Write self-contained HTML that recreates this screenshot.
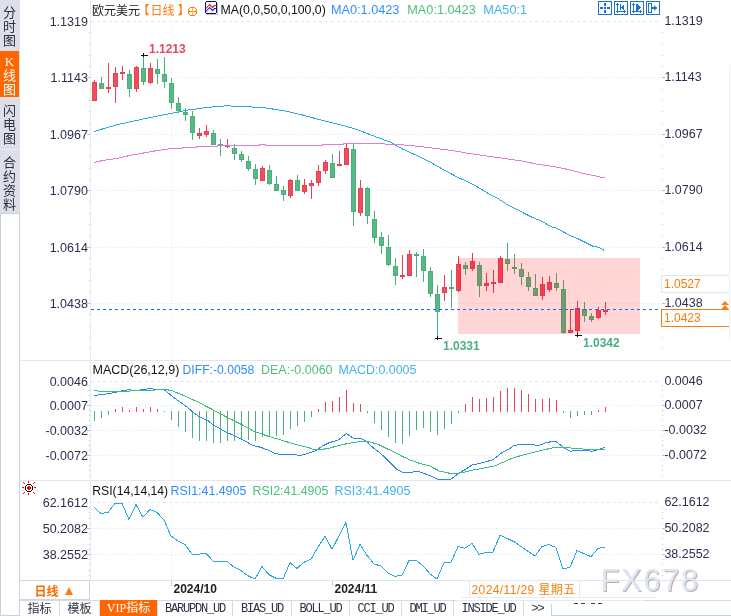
<!DOCTYPE html>
<html><head><meta charset="utf-8"><title>欧元美元 K线图</title>
<style>
html,body{margin:0;padding:0;background:#fff;}
body{width:731px;height:616px;overflow:hidden;position:relative;font-family:'Liberation Sans', 'Noto Sans CJK SC', sans-serif;}
svg{position:absolute;left:0;top:0;}
.side{position:absolute;left:0;top:0;width:20px;height:213px;background:#dedfe8;}
.tab{position:absolute;left:0;width:19px;font-family:'Liberation Sans','Noto Sans CJK SC',sans-serif;font-size:13px;line-height:14.2px;color:#2a3140;text-align:center;}
.tab.on{background:#ff6600;color:#fff;}
.col{position:absolute;left:0;top:213px;width:18px;height:401px;border:1px solid #c8d2dc;background:#fff;}
.bar{position:absolute;left:20px;top:600px;width:711px;height:16px;border-top:1px solid #d5dbe3;box-sizing:border-box;}
.bt{position:absolute;top:0;height:16px;line-height:16px;font-size:12px;color:#2a3140;text-align:center;border-right:1px solid #d5dbe3;box-sizing:border-box;}
.bt.cjk{font-family:'Liberation Sans','Noto Sans CJK SC',sans-serif;}
.bt.mono{font-family:'Liberation Mono',monospace;font-size:12px;letter-spacing:-1.2px;}
.bt.vip{background:#ff6600;color:#fff;top:-1px;height:16px;}
</style></head><body>
<div class="side"></div>
<div class="tab" style="top:6px;">分<br>时<br>图</div>
<div class="tab on" style="top:51px;height:46px;"><div style="padding-top:4px"><span style="font-family:'Liberation Serif',serif">K</span><br>线<br>图</div></div>
<div class="tab" style="top:103.6px;">闪<br>电<br>图</div>
<div style="position:absolute;left:0;top:149px;width:20px;height:1px;background:#e8eaf0"></div>
<div class="tab" style="top:155.5px;">合<br>约<br>资<br>料</div>
<div class="col"></div>
<svg width="731" height="616" viewBox="0 0 731 616" shape-rendering="auto">
<line x1="91" y1="21.5" x2="661" y2="21.5" stroke="#e3e8ee" stroke-width="1" stroke-dasharray="3 3"/>
<line x1="91" y1="77.5" x2="661" y2="77.5" stroke="#e3e8ee" stroke-width="1" stroke-dasharray="1 2"/>
<line x1="91" y1="134.5" x2="661" y2="134.5" stroke="#e3e8ee" stroke-width="1" stroke-dasharray="1 2"/>
<line x1="91" y1="190.5" x2="661" y2="190.5" stroke="#e3e8ee" stroke-width="1" stroke-dasharray="1 2"/>
<line x1="91" y1="247.5" x2="661" y2="247.5" stroke="#e3e8ee" stroke-width="1" stroke-dasharray="1 2"/>
<line x1="91" y1="303.5" x2="661" y2="303.5" stroke="#e3e8ee" stroke-width="1" stroke-dasharray="1 2"/>
<line x1="91" y1="381.5" x2="661" y2="381.5" stroke="#e3e8ee" stroke-width="1" stroke-dasharray="3 3"/>
<line x1="91" y1="405.5" x2="661" y2="405.5" stroke="#e3e8ee" stroke-width="1" stroke-dasharray="1 2"/>
<line x1="91" y1="430.5" x2="661" y2="430.5" stroke="#e3e8ee" stroke-width="1" stroke-dasharray="1 2"/>
<line x1="91" y1="455.5" x2="661" y2="455.5" stroke="#e3e8ee" stroke-width="1" stroke-dasharray="1 2"/>
<line x1="91" y1="502.5" x2="661" y2="502.5" stroke="#e3e8ee" stroke-width="1" stroke-dasharray="3 3"/>
<line x1="91" y1="528.5" x2="661" y2="528.5" stroke="#e3e8ee" stroke-width="1" stroke-dasharray="1 2"/>
<line x1="91" y1="554.5" x2="661" y2="554.5" stroke="#e3e8ee" stroke-width="1" stroke-dasharray="1 2"/>
<line x1="171.5" y1="15" x2="171.5" y2="580" stroke="#e3e8ee" stroke-width="1" stroke-dasharray="1 2"/>
<rect x="90" y="0" width="1" height="580" fill="#e6eaf0" />
<rect x="89" y="32" width="1" height="1" fill="#b8c0cc" />
<rect x="662" y="32" width="1" height="1" fill="#b8c0cc" />
<rect x="89" y="44" width="1" height="1" fill="#b8c0cc" />
<rect x="662" y="44" width="1" height="1" fill="#b8c0cc" />
<rect x="89" y="55" width="1" height="1" fill="#b8c0cc" />
<rect x="662" y="55" width="1" height="1" fill="#b8c0cc" />
<rect x="89" y="66" width="1" height="1" fill="#b8c0cc" />
<rect x="662" y="66" width="1" height="1" fill="#b8c0cc" />
<rect x="89" y="77" width="1" height="1" fill="#b8c0cc" />
<rect x="662" y="77" width="1" height="1" fill="#b8c0cc" />
<rect x="89" y="89" width="1" height="1" fill="#b8c0cc" />
<rect x="662" y="89" width="1" height="1" fill="#b8c0cc" />
<rect x="89" y="100" width="1" height="1" fill="#b8c0cc" />
<rect x="662" y="100" width="1" height="1" fill="#b8c0cc" />
<rect x="89" y="111" width="1" height="1" fill="#b8c0cc" />
<rect x="662" y="111" width="1" height="1" fill="#b8c0cc" />
<rect x="89" y="123" width="1" height="1" fill="#b8c0cc" />
<rect x="662" y="123" width="1" height="1" fill="#b8c0cc" />
<rect x="89" y="134" width="1" height="1" fill="#b8c0cc" />
<rect x="662" y="134" width="1" height="1" fill="#b8c0cc" />
<rect x="89" y="145" width="1" height="1" fill="#b8c0cc" />
<rect x="662" y="145" width="1" height="1" fill="#b8c0cc" />
<rect x="89" y="156" width="1" height="1" fill="#b8c0cc" />
<rect x="662" y="156" width="1" height="1" fill="#b8c0cc" />
<rect x="89" y="168" width="1" height="1" fill="#b8c0cc" />
<rect x="662" y="168" width="1" height="1" fill="#b8c0cc" />
<rect x="89" y="179" width="1" height="1" fill="#b8c0cc" />
<rect x="662" y="179" width="1" height="1" fill="#b8c0cc" />
<rect x="89" y="190" width="1" height="1" fill="#b8c0cc" />
<rect x="662" y="190" width="1" height="1" fill="#b8c0cc" />
<rect x="89" y="201" width="1" height="1" fill="#b8c0cc" />
<rect x="662" y="201" width="1" height="1" fill="#b8c0cc" />
<rect x="89" y="213" width="1" height="1" fill="#b8c0cc" />
<rect x="662" y="213" width="1" height="1" fill="#b8c0cc" />
<rect x="89" y="224" width="1" height="1" fill="#b8c0cc" />
<rect x="662" y="224" width="1" height="1" fill="#b8c0cc" />
<rect x="89" y="235" width="1" height="1" fill="#b8c0cc" />
<rect x="662" y="235" width="1" height="1" fill="#b8c0cc" />
<rect x="89" y="247" width="1" height="1" fill="#b8c0cc" />
<rect x="662" y="247" width="1" height="1" fill="#b8c0cc" />
<rect x="89" y="258" width="1" height="1" fill="#b8c0cc" />
<rect x="662" y="258" width="1" height="1" fill="#b8c0cc" />
<rect x="89" y="269" width="1" height="1" fill="#b8c0cc" />
<rect x="662" y="269" width="1" height="1" fill="#b8c0cc" />
<rect x="89" y="280" width="1" height="1" fill="#b8c0cc" />
<rect x="662" y="280" width="1" height="1" fill="#b8c0cc" />
<rect x="89" y="292" width="1" height="1" fill="#b8c0cc" />
<rect x="662" y="292" width="1" height="1" fill="#b8c0cc" />
<rect x="89" y="303" width="1" height="1" fill="#b8c0cc" />
<rect x="662" y="303" width="1" height="1" fill="#b8c0cc" />
<rect x="89" y="314" width="1" height="1" fill="#b8c0cc" />
<rect x="662" y="314" width="1" height="1" fill="#b8c0cc" />
<rect x="89" y="326" width="1" height="1" fill="#b8c0cc" />
<rect x="662" y="326" width="1" height="1" fill="#b8c0cc" />
<rect x="89" y="337" width="1" height="1" fill="#b8c0cc" />
<rect x="662" y="337" width="1" height="1" fill="#b8c0cc" />
<rect x="89" y="348" width="1" height="1" fill="#b8c0cc" />
<rect x="662" y="348" width="1" height="1" fill="#b8c0cc" />
<rect x="87" y="77" width="3" height="1" fill="#b8c0cc" />
<rect x="662" y="77" width="3" height="1" fill="#b8c0cc" />
<rect x="87" y="134" width="3" height="1" fill="#b8c0cc" />
<rect x="662" y="134" width="3" height="1" fill="#b8c0cc" />
<rect x="87" y="190" width="3" height="1" fill="#b8c0cc" />
<rect x="662" y="190" width="3" height="1" fill="#b8c0cc" />
<rect x="87" y="247" width="3" height="1" fill="#b8c0cc" />
<rect x="662" y="247" width="3" height="1" fill="#b8c0cc" />
<rect x="87" y="303" width="3" height="1" fill="#b8c0cc" />
<rect x="662" y="303" width="3" height="1" fill="#b8c0cc" />
<rect x="89" y="385" width="1" height="1" fill="#b8c0cc" />
<rect x="662" y="385" width="1" height="1" fill="#b8c0cc" />
<rect x="89" y="390" width="1" height="1" fill="#b8c0cc" />
<rect x="662" y="390" width="1" height="1" fill="#b8c0cc" />
<rect x="89" y="395" width="1" height="1" fill="#b8c0cc" />
<rect x="662" y="395" width="1" height="1" fill="#b8c0cc" />
<rect x="89" y="400" width="1" height="1" fill="#b8c0cc" />
<rect x="662" y="400" width="1" height="1" fill="#b8c0cc" />
<rect x="89" y="405" width="1" height="1" fill="#b8c0cc" />
<rect x="662" y="405" width="1" height="1" fill="#b8c0cc" />
<rect x="89" y="410" width="1" height="1" fill="#b8c0cc" />
<rect x="662" y="410" width="1" height="1" fill="#b8c0cc" />
<rect x="89" y="415" width="1" height="1" fill="#b8c0cc" />
<rect x="662" y="415" width="1" height="1" fill="#b8c0cc" />
<rect x="89" y="420" width="1" height="1" fill="#b8c0cc" />
<rect x="662" y="420" width="1" height="1" fill="#b8c0cc" />
<rect x="89" y="425" width="1" height="1" fill="#b8c0cc" />
<rect x="662" y="425" width="1" height="1" fill="#b8c0cc" />
<rect x="89" y="430" width="1" height="1" fill="#b8c0cc" />
<rect x="662" y="430" width="1" height="1" fill="#b8c0cc" />
<rect x="89" y="435" width="1" height="1" fill="#b8c0cc" />
<rect x="662" y="435" width="1" height="1" fill="#b8c0cc" />
<rect x="89" y="440" width="1" height="1" fill="#b8c0cc" />
<rect x="662" y="440" width="1" height="1" fill="#b8c0cc" />
<rect x="89" y="445" width="1" height="1" fill="#b8c0cc" />
<rect x="662" y="445" width="1" height="1" fill="#b8c0cc" />
<rect x="89" y="450" width="1" height="1" fill="#b8c0cc" />
<rect x="662" y="450" width="1" height="1" fill="#b8c0cc" />
<rect x="89" y="455" width="1" height="1" fill="#b8c0cc" />
<rect x="662" y="455" width="1" height="1" fill="#b8c0cc" />
<rect x="89" y="460" width="1" height="1" fill="#b8c0cc" />
<rect x="662" y="460" width="1" height="1" fill="#b8c0cc" />
<rect x="89" y="465" width="1" height="1" fill="#b8c0cc" />
<rect x="662" y="465" width="1" height="1" fill="#b8c0cc" />
<rect x="89" y="470" width="1" height="1" fill="#b8c0cc" />
<rect x="662" y="470" width="1" height="1" fill="#b8c0cc" />
<rect x="89" y="475" width="1" height="1" fill="#b8c0cc" />
<rect x="662" y="475" width="1" height="1" fill="#b8c0cc" />
<rect x="87" y="405" width="3" height="1" fill="#b8c0cc" />
<rect x="662" y="405" width="3" height="1" fill="#b8c0cc" />
<rect x="87" y="430" width="3" height="1" fill="#b8c0cc" />
<rect x="662" y="430" width="3" height="1" fill="#b8c0cc" />
<rect x="87" y="455" width="3" height="1" fill="#b8c0cc" />
<rect x="662" y="455" width="3" height="1" fill="#b8c0cc" />
<rect x="89" y="507" width="1" height="1" fill="#b8c0cc" />
<rect x="662" y="507" width="1" height="1" fill="#b8c0cc" />
<rect x="89" y="512" width="1" height="1" fill="#b8c0cc" />
<rect x="662" y="512" width="1" height="1" fill="#b8c0cc" />
<rect x="89" y="518" width="1" height="1" fill="#b8c0cc" />
<rect x="662" y="518" width="1" height="1" fill="#b8c0cc" />
<rect x="89" y="523" width="1" height="1" fill="#b8c0cc" />
<rect x="662" y="523" width="1" height="1" fill="#b8c0cc" />
<rect x="89" y="528" width="1" height="1" fill="#b8c0cc" />
<rect x="662" y="528" width="1" height="1" fill="#b8c0cc" />
<rect x="89" y="533" width="1" height="1" fill="#b8c0cc" />
<rect x="662" y="533" width="1" height="1" fill="#b8c0cc" />
<rect x="89" y="538" width="1" height="1" fill="#b8c0cc" />
<rect x="662" y="538" width="1" height="1" fill="#b8c0cc" />
<rect x="89" y="544" width="1" height="1" fill="#b8c0cc" />
<rect x="662" y="544" width="1" height="1" fill="#b8c0cc" />
<rect x="89" y="549" width="1" height="1" fill="#b8c0cc" />
<rect x="662" y="549" width="1" height="1" fill="#b8c0cc" />
<rect x="89" y="554" width="1" height="1" fill="#b8c0cc" />
<rect x="662" y="554" width="1" height="1" fill="#b8c0cc" />
<rect x="89" y="559" width="1" height="1" fill="#b8c0cc" />
<rect x="662" y="559" width="1" height="1" fill="#b8c0cc" />
<rect x="89" y="564" width="1" height="1" fill="#b8c0cc" />
<rect x="662" y="564" width="1" height="1" fill="#b8c0cc" />
<rect x="89" y="570" width="1" height="1" fill="#b8c0cc" />
<rect x="662" y="570" width="1" height="1" fill="#b8c0cc" />
<rect x="89" y="575" width="1" height="1" fill="#b8c0cc" />
<rect x="662" y="575" width="1" height="1" fill="#b8c0cc" />
<rect x="87" y="528" width="3" height="1" fill="#b8c0cc" />
<rect x="662" y="528" width="3" height="1" fill="#b8c0cc" />
<rect x="87" y="554" width="3" height="1" fill="#b8c0cc" />
<rect x="662" y="554" width="3" height="1" fill="#b8c0cc" />
<rect x="20" y="360" width="711" height="1" fill="#e2e7ee" />
<rect x="20" y="480" width="711" height="1" fill="#e2e7ee" />
<rect x="20" y="580" width="711" height="1" fill="#dfe4eb" />
<text x="87.9" y="25.8" font-size="12.5" fill="#2c3050" text-anchor="end" font-weight="normal" font-family="'Liberation Sans', 'Noto Sans CJK SC', sans-serif" >1.1319</text>
<text x="664.4" y="25.3" font-size="12.5" fill="#2c3050" text-anchor="start" font-weight="normal" font-family="'Liberation Sans', 'Noto Sans CJK SC', sans-serif" >1.1319</text>
<text x="87.9" y="81.8" font-size="12.5" fill="#2c3050" text-anchor="end" font-weight="normal" font-family="'Liberation Sans', 'Noto Sans CJK SC', sans-serif" >1.1143</text>
<text x="664.4" y="81.3" font-size="12.5" fill="#2c3050" text-anchor="start" font-weight="normal" font-family="'Liberation Sans', 'Noto Sans CJK SC', sans-serif" >1.1143</text>
<text x="87.9" y="138.8" font-size="12.5" fill="#2c3050" text-anchor="end" font-weight="normal" font-family="'Liberation Sans', 'Noto Sans CJK SC', sans-serif" >1.0967</text>
<text x="664.4" y="138.3" font-size="12.5" fill="#2c3050" text-anchor="start" font-weight="normal" font-family="'Liberation Sans', 'Noto Sans CJK SC', sans-serif" >1.0967</text>
<text x="87.9" y="194.8" font-size="12.5" fill="#2c3050" text-anchor="end" font-weight="normal" font-family="'Liberation Sans', 'Noto Sans CJK SC', sans-serif" >1.0790</text>
<text x="664.4" y="194.3" font-size="12.5" fill="#2c3050" text-anchor="start" font-weight="normal" font-family="'Liberation Sans', 'Noto Sans CJK SC', sans-serif" >1.0790</text>
<text x="87.9" y="251.8" font-size="12.5" fill="#2c3050" text-anchor="end" font-weight="normal" font-family="'Liberation Sans', 'Noto Sans CJK SC', sans-serif" >1.0614</text>
<text x="664.4" y="251.3" font-size="12.5" fill="#2c3050" text-anchor="start" font-weight="normal" font-family="'Liberation Sans', 'Noto Sans CJK SC', sans-serif" >1.0614</text>
<text x="87.9" y="307.8" font-size="12.5" fill="#2c3050" text-anchor="end" font-weight="normal" font-family="'Liberation Sans', 'Noto Sans CJK SC', sans-serif" >1.0438</text>
<text x="664.4" y="307.3" font-size="12.5" fill="#2c3050" text-anchor="start" font-weight="normal" font-family="'Liberation Sans', 'Noto Sans CJK SC', sans-serif" >1.0438</text>
<text x="87.9" y="385.8" font-size="12.5" fill="#2c3050" text-anchor="end" font-weight="normal" font-family="'Liberation Sans', 'Noto Sans CJK SC', sans-serif" >0.0046</text>
<text x="664.4" y="385.3" font-size="12.5" fill="#2c3050" text-anchor="start" font-weight="normal" font-family="'Liberation Sans', 'Noto Sans CJK SC', sans-serif" >0.0046</text>
<text x="87.9" y="409.8" font-size="12.5" fill="#2c3050" text-anchor="end" font-weight="normal" font-family="'Liberation Sans', 'Noto Sans CJK SC', sans-serif" >0.0007</text>
<text x="664.4" y="409.3" font-size="12.5" fill="#2c3050" text-anchor="start" font-weight="normal" font-family="'Liberation Sans', 'Noto Sans CJK SC', sans-serif" >0.0007</text>
<text x="87.9" y="434.8" font-size="12.5" fill="#2c3050" text-anchor="end" font-weight="normal" font-family="'Liberation Sans', 'Noto Sans CJK SC', sans-serif" >-0.0032</text>
<text x="664.4" y="434.3" font-size="12.5" fill="#2c3050" text-anchor="start" font-weight="normal" font-family="'Liberation Sans', 'Noto Sans CJK SC', sans-serif" >-0.0032</text>
<text x="87.9" y="459.8" font-size="12.5" fill="#2c3050" text-anchor="end" font-weight="normal" font-family="'Liberation Sans', 'Noto Sans CJK SC', sans-serif" >-0.0072</text>
<text x="664.4" y="459.3" font-size="12.5" fill="#2c3050" text-anchor="start" font-weight="normal" font-family="'Liberation Sans', 'Noto Sans CJK SC', sans-serif" >-0.0072</text>
<text x="87.9" y="506.8" font-size="12.5" fill="#2c3050" text-anchor="end" font-weight="normal" font-family="'Liberation Sans', 'Noto Sans CJK SC', sans-serif" >62.1612</text>
<text x="664.4" y="506.3" font-size="12.5" fill="#2c3050" text-anchor="start" font-weight="normal" font-family="'Liberation Sans', 'Noto Sans CJK SC', sans-serif" >62.1612</text>
<text x="87.9" y="532.8" font-size="12.5" fill="#2c3050" text-anchor="end" font-weight="normal" font-family="'Liberation Sans', 'Noto Sans CJK SC', sans-serif" >50.2082</text>
<text x="664.4" y="532.3" font-size="12.5" fill="#2c3050" text-anchor="start" font-weight="normal" font-family="'Liberation Sans', 'Noto Sans CJK SC', sans-serif" >50.2082</text>
<text x="87.9" y="558.8" font-size="12.5" fill="#2c3050" text-anchor="end" font-weight="normal" font-family="'Liberation Sans', 'Noto Sans CJK SC', sans-serif" >38.2552</text>
<text x="664.4" y="558.3" font-size="12.5" fill="#2c3050" text-anchor="start" font-weight="normal" font-family="'Liberation Sans', 'Noto Sans CJK SC', sans-serif" >38.2552</text>
<rect x="94" y="80" width="1" height="21" fill="#e84055" />
<rect x="92" y="82" width="5" height="19" fill="#e84055" />
<rect x="93" y="83" width="3" height="17" fill="#eb4f60" />
<rect x="101" y="77" width="1" height="12" fill="#49b07a" />
<rect x="99" y="83" width="5" height="6" fill="#49b07a" />
<rect x="100" y="84" width="3" height="4" fill="#58b987" />
<rect x="108" y="63" width="1" height="30" fill="#e84055" />
<rect x="106" y="87" width="5" height="2" fill="#e84055" />
<rect x="115" y="67" width="1" height="36" fill="#e84055" />
<rect x="113" y="73" width="5" height="14" fill="#e84055" />
<rect x="114" y="74" width="3" height="12" fill="#eb4f60" />
<rect x="122" y="66" width="1" height="14" fill="#e84055" />
<rect x="120" y="72" width="5" height="2" fill="#e84055" />
<rect x="129" y="70" width="1" height="27" fill="#49b07a" />
<rect x="127" y="74" width="5" height="15" fill="#49b07a" />
<rect x="128" y="75" width="3" height="13" fill="#58b987" />
<rect x="136" y="66" width="1" height="26" fill="#e84055" />
<rect x="134" y="67" width="5" height="22" fill="#e84055" />
<rect x="135" y="68" width="3" height="20" fill="#eb4f60" />
<rect x="143" y="56" width="1" height="29" fill="#49b07a" />
<rect x="141" y="68" width="5" height="14" fill="#49b07a" />
<rect x="142" y="69" width="3" height="12" fill="#58b987" />
<rect x="150" y="63" width="1" height="21" fill="#e84055" />
<rect x="148" y="68" width="5" height="15" fill="#e84055" />
<rect x="149" y="69" width="3" height="13" fill="#eb4f60" />
<rect x="157" y="59" width="1" height="25" fill="#49b07a" />
<rect x="155" y="69" width="5" height="5" fill="#49b07a" />
<rect x="156" y="70" width="3" height="3" fill="#58b987" />
<rect x="164" y="57" width="1" height="31" fill="#49b07a" />
<rect x="162" y="74" width="5" height="8" fill="#49b07a" />
<rect x="163" y="75" width="3" height="6" fill="#58b987" />
<rect x="171" y="78" width="1" height="31" fill="#49b07a" />
<rect x="169" y="83" width="5" height="20" fill="#49b07a" />
<rect x="170" y="84" width="3" height="18" fill="#58b987" />
<rect x="178" y="97" width="1" height="16" fill="#49b07a" />
<rect x="176" y="103" width="5" height="8" fill="#49b07a" />
<rect x="177" y="104" width="3" height="6" fill="#58b987" />
<rect x="185" y="108" width="1" height="13" fill="#49b07a" />
<rect x="183" y="112" width="5" height="3" fill="#49b07a" />
<rect x="184" y="113" width="3" height="1" fill="#58b987" />
<rect x="192" y="111" width="1" height="29" fill="#49b07a" />
<rect x="190" y="116" width="5" height="17" fill="#49b07a" />
<rect x="191" y="117" width="3" height="15" fill="#58b987" />
<rect x="199" y="128" width="1" height="11" fill="#e84055" />
<rect x="197" y="133" width="5" height="3" fill="#e84055" />
<rect x="198" y="134" width="3" height="1" fill="#eb4f60" />
<rect x="206" y="125" width="1" height="12" fill="#e84055" />
<rect x="204" y="131" width="5" height="4" fill="#e84055" />
<rect x="205" y="132" width="3" height="2" fill="#eb4f60" />
<rect x="213" y="130" width="1" height="15" fill="#49b07a" />
<rect x="211" y="133" width="5" height="12" fill="#49b07a" />
<rect x="212" y="134" width="3" height="10" fill="#58b987" />
<rect x="220" y="139" width="1" height="17" fill="#49b07a" />
<rect x="218" y="144" width="5" height="2" fill="#49b07a" />
<rect x="227" y="139" width="1" height="9" fill="#e84055" />
<rect x="225" y="145" width="5" height="2" fill="#e84055" />
<rect x="234" y="144" width="1" height="16" fill="#49b07a" />
<rect x="232" y="148" width="5" height="6" fill="#49b07a" />
<rect x="233" y="149" width="3" height="4" fill="#58b987" />
<rect x="241" y="151" width="1" height="11" fill="#49b07a" />
<rect x="239" y="154" width="5" height="6" fill="#49b07a" />
<rect x="240" y="155" width="3" height="4" fill="#58b987" />
<rect x="248" y="156" width="1" height="15" fill="#49b07a" />
<rect x="246" y="161" width="5" height="8" fill="#49b07a" />
<rect x="247" y="162" width="3" height="6" fill="#58b987" />
<rect x="255" y="164" width="1" height="21" fill="#49b07a" />
<rect x="253" y="169" width="5" height="10" fill="#49b07a" />
<rect x="254" y="170" width="3" height="8" fill="#58b987" />
<rect x="262" y="166" width="1" height="15" fill="#e84055" />
<rect x="260" y="168" width="5" height="13" fill="#e84055" />
<rect x="261" y="169" width="3" height="11" fill="#eb4f60" />
<rect x="269" y="165" width="1" height="20" fill="#49b07a" />
<rect x="267" y="170" width="5" height="14" fill="#49b07a" />
<rect x="268" y="171" width="3" height="12" fill="#58b987" />
<rect x="276" y="176" width="1" height="15" fill="#49b07a" />
<rect x="274" y="184" width="5" height="7" fill="#49b07a" />
<rect x="275" y="185" width="3" height="5" fill="#58b987" />
<rect x="283" y="186" width="1" height="15" fill="#49b07a" />
<rect x="281" y="190" width="5" height="5" fill="#49b07a" />
<rect x="282" y="191" width="3" height="3" fill="#58b987" />
<rect x="290" y="179" width="1" height="19" fill="#e84055" />
<rect x="288" y="180" width="5" height="16" fill="#e84055" />
<rect x="289" y="181" width="3" height="14" fill="#eb4f60" />
<rect x="297" y="175" width="1" height="16" fill="#49b07a" />
<rect x="295" y="180" width="5" height="11" fill="#49b07a" />
<rect x="296" y="181" width="3" height="9" fill="#58b987" />
<rect x="304" y="179" width="1" height="15" fill="#e84055" />
<rect x="302" y="185" width="5" height="7" fill="#e84055" />
<rect x="303" y="186" width="3" height="5" fill="#eb4f60" />
<rect x="311" y="180" width="1" height="19" fill="#e84055" />
<rect x="309" y="183" width="5" height="3" fill="#e84055" />
<rect x="310" y="184" width="3" height="1" fill="#eb4f60" />
<rect x="318" y="165" width="1" height="21" fill="#e84055" />
<rect x="316" y="171" width="5" height="12" fill="#e84055" />
<rect x="317" y="172" width="3" height="10" fill="#eb4f60" />
<rect x="325" y="160" width="1" height="14" fill="#e84055" />
<rect x="323" y="162" width="5" height="9" fill="#e84055" />
<rect x="324" y="163" width="3" height="7" fill="#eb4f60" />
<rect x="332" y="154" width="1" height="24" fill="#49b07a" />
<rect x="330" y="163" width="5" height="15" fill="#49b07a" />
<rect x="331" y="164" width="3" height="13" fill="#58b987" />
<rect x="339" y="151" width="1" height="15" fill="#e84055" />
<rect x="337" y="164" width="5" height="2" fill="#e84055" />
<rect x="346" y="144" width="1" height="21" fill="#e84055" />
<rect x="344" y="148" width="5" height="17" fill="#e84055" />
<rect x="345" y="149" width="3" height="15" fill="#eb4f60" />
<rect x="353" y="144" width="1" height="82" fill="#49b07a" />
<rect x="351" y="149" width="5" height="63" fill="#49b07a" />
<rect x="352" y="150" width="3" height="61" fill="#58b987" />
<rect x="360" y="180" width="1" height="36" fill="#e84055" />
<rect x="358" y="188" width="5" height="25" fill="#e84055" />
<rect x="359" y="189" width="3" height="23" fill="#eb4f60" />
<rect x="367" y="187" width="1" height="37" fill="#49b07a" />
<rect x="365" y="188" width="5" height="28" fill="#49b07a" />
<rect x="366" y="189" width="3" height="26" fill="#58b987" />
<rect x="374" y="211" width="1" height="32" fill="#49b07a" />
<rect x="372" y="219" width="5" height="19" fill="#49b07a" />
<rect x="373" y="220" width="3" height="17" fill="#58b987" />
<rect x="381" y="232" width="1" height="22" fill="#49b07a" />
<rect x="379" y="237" width="5" height="9" fill="#49b07a" />
<rect x="380" y="238" width="3" height="7" fill="#58b987" />
<rect x="388" y="235" width="1" height="31" fill="#49b07a" />
<rect x="386" y="247" width="5" height="18" fill="#49b07a" />
<rect x="387" y="248" width="3" height="16" fill="#58b987" />
<rect x="395" y="258" width="1" height="27" fill="#49b07a" />
<rect x="393" y="266" width="5" height="10" fill="#49b07a" />
<rect x="394" y="267" width="3" height="8" fill="#58b987" />
<rect x="402" y="255" width="1" height="24" fill="#e84055" />
<rect x="400" y="275" width="5" height="2" fill="#e84055" />
<rect x="409" y="250" width="1" height="26" fill="#e84055" />
<rect x="407" y="254" width="5" height="22" fill="#e84055" />
<rect x="408" y="255" width="3" height="20" fill="#eb4f60" />
<rect x="416" y="252" width="1" height="25" fill="#49b07a" />
<rect x="414" y="254" width="5" height="2" fill="#49b07a" />
<rect x="423" y="249" width="1" height="33" fill="#49b07a" />
<rect x="421" y="256" width="5" height="15" fill="#49b07a" />
<rect x="422" y="257" width="3" height="13" fill="#58b987" />
<rect x="430" y="267" width="1" height="30" fill="#49b07a" />
<rect x="428" y="271" width="5" height="23" fill="#49b07a" />
<rect x="429" y="272" width="3" height="21" fill="#58b987" />
<rect x="437" y="285" width="1" height="53" fill="#49b07a" />
<rect x="435" y="294" width="5" height="18" fill="#49b07a" />
<rect x="436" y="295" width="3" height="16" fill="#58b987" />
<rect x="444" y="275" width="1" height="26" fill="#e84055" />
<rect x="442" y="287" width="5" height="6" fill="#e84055" />
<rect x="443" y="288" width="3" height="4" fill="#eb4f60" />
<rect x="451" y="270" width="1" height="38" fill="#49b07a" />
<rect x="449" y="287" width="5" height="2" fill="#49b07a" />
<rect x="458" y="256" width="1" height="36" fill="#e84055" />
<rect x="456" y="264" width="5" height="27" fill="#e84055" />
<rect x="457" y="265" width="3" height="25" fill="#eb4f60" />
<rect x="465" y="262" width="1" height="13" fill="#49b07a" />
<rect x="463" y="265" width="5" height="4" fill="#49b07a" />
<rect x="464" y="266" width="3" height="2" fill="#58b987" />
<rect x="472" y="253" width="1" height="18" fill="#e84055" />
<rect x="470" y="261" width="5" height="8" fill="#e84055" />
<rect x="471" y="262" width="3" height="6" fill="#eb4f60" />
<rect x="479" y="262" width="1" height="35" fill="#49b07a" />
<rect x="477" y="265" width="5" height="21" fill="#49b07a" />
<rect x="478" y="266" width="3" height="19" fill="#58b987" />
<rect x="486" y="273" width="1" height="18" fill="#e84055" />
<rect x="484" y="283" width="5" height="3" fill="#e84055" />
<rect x="485" y="284" width="3" height="1" fill="#eb4f60" />
<rect x="493" y="270" width="1" height="23" fill="#e84055" />
<rect x="491" y="282" width="5" height="2" fill="#e84055" />
<rect x="500" y="256" width="1" height="27" fill="#e84055" />
<rect x="498" y="258" width="5" height="25" fill="#e84055" />
<rect x="499" y="259" width="3" height="23" fill="#eb4f60" />
<rect x="507" y="243" width="1" height="28" fill="#49b07a" />
<rect x="505" y="259" width="5" height="5" fill="#49b07a" />
<rect x="506" y="260" width="3" height="3" fill="#58b987" />
<rect x="514" y="254" width="1" height="20" fill="#49b07a" />
<rect x="512" y="267" width="5" height="2" fill="#49b07a" />
<rect x="521" y="263" width="1" height="22" fill="#49b07a" />
<rect x="519" y="269" width="5" height="8" fill="#49b07a" />
<rect x="520" y="270" width="3" height="6" fill="#58b987" />
<rect x="528" y="272" width="1" height="19" fill="#49b07a" />
<rect x="526" y="277" width="5" height="10" fill="#49b07a" />
<rect x="527" y="278" width="3" height="8" fill="#58b987" />
<rect x="535" y="274" width="1" height="22" fill="#49b07a" />
<rect x="533" y="288" width="5" height="8" fill="#49b07a" />
<rect x="534" y="289" width="3" height="6" fill="#58b987" />
<rect x="542" y="277" width="1" height="23" fill="#e84055" />
<rect x="540" y="284" width="5" height="12" fill="#e84055" />
<rect x="541" y="285" width="3" height="10" fill="#eb4f60" />
<rect x="549" y="276" width="1" height="16" fill="#e84055" />
<rect x="547" y="282" width="5" height="8" fill="#e84055" />
<rect x="548" y="283" width="3" height="6" fill="#eb4f60" />
<rect x="556" y="273" width="1" height="18" fill="#49b07a" />
<rect x="554" y="283" width="5" height="5" fill="#49b07a" />
<rect x="555" y="284" width="3" height="3" fill="#58b987" />
<rect x="563" y="280" width="1" height="54" fill="#49b07a" />
<rect x="561" y="289" width="5" height="44" fill="#49b07a" />
<rect x="562" y="290" width="3" height="42" fill="#58b987" />
<rect x="570" y="309" width="1" height="24" fill="#e84055" />
<rect x="568" y="330" width="5" height="3" fill="#e84055" />
<rect x="569" y="331" width="3" height="1" fill="#eb4f60" />
<rect x="577" y="301" width="1" height="34" fill="#e84055" />
<rect x="575" y="308" width="5" height="23" fill="#e84055" />
<rect x="576" y="309" width="3" height="21" fill="#eb4f60" />
<rect x="584" y="302" width="1" height="20" fill="#49b07a" />
<rect x="582" y="309" width="5" height="7" fill="#49b07a" />
<rect x="583" y="310" width="3" height="5" fill="#58b987" />
<rect x="591" y="313" width="1" height="9" fill="#49b07a" />
<rect x="589" y="316" width="5" height="4" fill="#49b07a" />
<rect x="590" y="317" width="3" height="2" fill="#58b987" />
<rect x="598" y="307" width="1" height="12" fill="#e84055" />
<rect x="596" y="310" width="5" height="8" fill="#e84055" />
<rect x="597" y="311" width="3" height="6" fill="#eb4f60" />
<rect x="605" y="302" width="1" height="13" fill="#e84055" />
<rect x="603" y="310" width="5" height="2" fill="#e84055" />
<rect x="458" y="258" width="182" height="76" fill="rgba(255,0,0,0.165)" />
<polyline points="94.0,131.5 117.4,124.6 144.7,118.7 172.0,113.3 190.0,109.5 193.0,109.5 199.6,108.5 206.6,107.5 217.0,106.5 223.9,106.0 227.5,105.5 231.0,106.0 241.4,106.5 251.8,107.0 258.9,107.5 265.9,108.0 269.4,108.5 275.5,109.5 282.0,110.5 288.0,111.5 290.0,112.0 303.7,115.3 317.4,119.1 331.0,122.4 344.7,125.9 358.4,130.0 372.0,135.4 390.0,142.1 403.7,149.6 417.4,155.7 431.0,162.6 444.7,170.4 458.4,177.6 472.0,183.8 490.0,194.4 497.8,198.3 508.5,205.5 515.6,208.7 524.5,213.5 533.4,217.9 542.3,221.5 551.2,226.8 555.0,227.6 562.5,231.4 570.0,235.5 577.6,238.5 585.1,242.3 592.6,246.1 595.6,246.6 598.6,247.4 604.3,250.4" fill="none" stroke="#27aae1" stroke-width="1" stroke-linejoin="round" shape-rendering="crispEdges"/>
<polyline points="94.1,162.4 103.7,160.3 117.4,158.3 131.0,155.2 144.7,152.8 158.4,150.3 172.0,148.5 182.0,148.5 182.0,147.5 196.0,147.5 196.0,146.5 217.0,146.5 217.0,145.5 259.0,145.5 259.0,144.5 265.5,144.5 265.5,145.5 322.0,145.5 322.0,144.5 343.0,144.5 343.0,143.5 385.0,143.5 385.0,144.5 399.0,144.5 405.8,145.2 419.8,146.5 431.6,148.0 444.5,149.5 451.4,150.5 458.3,151.5 465.5,153.0 473.0,154.0 479.8,155.0 486.7,156.0 494.2,157.0 501.0,158.0 507.9,159.0 514.7,160.0 521.6,161.0 528.4,162.3 535.5,163.9 542.6,164.9 549.7,165.9 555.2,166.9 560.0,167.8 564.5,168.8 569.4,169.8 573.8,170.9 577.6,171.8 580.9,172.9 585.8,173.9 590.2,174.9 595.1,175.8 599.5,176.8 604.5,178.0" fill="none" stroke="#e27ad9" stroke-width="1" stroke-linejoin="round" shape-rendering="crispEdges"/>
<line x1="91" y1="309.5" x2="661" y2="309.5" stroke="#0a6cff" stroke-width="1" stroke-dasharray="3 3"/>
<rect x="141" y="55" width="7" height="1" fill="#111" />
<rect x="143" y="53" width="1" height="4" fill="#111" />
<rect x="435" y="338" width="7" height="1" fill="#111" />
<rect x="437" y="336" width="1" height="4" fill="#111" />
<rect x="575" y="335" width="7" height="1" fill="#111" />
<rect x="577" y="333" width="1" height="4" fill="#111" />
<text x="149" y="53" font-size="12" fill="#e8455e" text-anchor="start" font-weight="bold" font-family="'Liberation Sans', 'Noto Sans CJK SC', sans-serif" >1.1213</text>
<text x="443" y="350" font-size="12" fill="#4caf7d" text-anchor="start" font-weight="bold" font-family="'Liberation Sans', 'Noto Sans CJK SC', sans-serif" >1.0331</text>
<text x="583" y="347" font-size="12" fill="#4caf7d" text-anchor="start" font-weight="bold" font-family="'Liberation Sans', 'Noto Sans CJK SC', sans-serif" >1.0342</text>
<rect x="661.5" y="275.5" width="68" height="17" fill="#fff" stroke="#e1e7ee"/>
<text x="664" y="288" font-size="12" fill="#ff7a0a" text-anchor="start" font-weight="normal" font-family="'Liberation Sans', 'Noto Sans CJK SC', sans-serif" >1.0527</text>
<rect x="661.5" y="309.5" width="68" height="17" fill="#fff" stroke="#ff7a0a"/>
<text x="664" y="322" font-size="12" fill="#ff7a0a" text-anchor="start" font-weight="normal" font-family="'Liberation Sans', 'Noto Sans CJK SC', sans-serif" >1.0423</text>
<path d="M721,305 L725,301 L729,305 Z M721,309.5 L725,305 L729,309.5 Z" fill="#ff7a0a"/>
<rect x="94" y="411" width="1" height="10" fill="#4caf7d" />
<rect x="101" y="411" width="1" height="7" fill="#4caf7d" />
<rect x="108" y="411" width="1" height="4" fill="#4caf7d" />
<rect x="115" y="409" width="1" height="3" fill="#e8455e" />
<rect x="122" y="407" width="1" height="5" fill="#e8455e" />
<rect x="129" y="410" width="1" height="2" fill="#e8455e" />
<rect x="136" y="407" width="1" height="5" fill="#e8455e" />
<rect x="143" y="409" width="1" height="3" fill="#e8455e" />
<rect x="150" y="407" width="1" height="5" fill="#e8455e" />
<rect x="157" y="409" width="1" height="3" fill="#e8455e" />
<rect x="164" y="411" width="1" height="1" fill="#4caf7d" />
<rect x="171" y="411" width="1" height="9" fill="#4caf7d" />
<rect x="178" y="411" width="1" height="16" fill="#4caf7d" />
<rect x="185" y="411" width="1" height="21" fill="#4caf7d" />
<rect x="192" y="411" width="1" height="27" fill="#4caf7d" />
<rect x="199" y="411" width="1" height="30" fill="#4caf7d" />
<rect x="206" y="411" width="1" height="30" fill="#4caf7d" />
<rect x="213" y="411" width="1" height="32" fill="#4caf7d" />
<rect x="220" y="411" width="1" height="32" fill="#4caf7d" />
<rect x="227" y="411" width="1" height="30" fill="#4caf7d" />
<rect x="234" y="411" width="1" height="30" fill="#4caf7d" />
<rect x="241" y="411" width="1" height="29" fill="#4caf7d" />
<rect x="248" y="411" width="1" height="29" fill="#4caf7d" />
<rect x="255" y="411" width="1" height="30" fill="#4caf7d" />
<rect x="262" y="411" width="1" height="26" fill="#4caf7d" />
<rect x="269" y="411" width="1" height="25" fill="#4caf7d" />
<rect x="276" y="411" width="1" height="25" fill="#4caf7d" />
<rect x="283" y="411" width="1" height="24" fill="#4caf7d" />
<rect x="290" y="411" width="1" height="18" fill="#4caf7d" />
<rect x="297" y="411" width="1" height="15" fill="#4caf7d" />
<rect x="304" y="411" width="1" height="11" fill="#4caf7d" />
<rect x="311" y="411" width="1" height="6" fill="#4caf7d" />
<rect x="318" y="409" width="1" height="3" fill="#e8455e" />
<rect x="325" y="402" width="1" height="10" fill="#e8455e" />
<rect x="332" y="401" width="1" height="11" fill="#e8455e" />
<rect x="339" y="397" width="1" height="15" fill="#e8455e" />
<rect x="346" y="390" width="1" height="22" fill="#e8455e" />
<rect x="353" y="403" width="1" height="9" fill="#e8455e" />
<rect x="360" y="404" width="1" height="8" fill="#e8455e" />
<rect x="367" y="411" width="1" height="2" fill="#4caf7d" />
<rect x="374" y="411" width="1" height="12" fill="#4caf7d" />
<rect x="381" y="411" width="1" height="19" fill="#4caf7d" />
<rect x="388" y="411" width="1" height="26" fill="#4caf7d" />
<rect x="395" y="411" width="1" height="32" fill="#4caf7d" />
<rect x="402" y="411" width="1" height="33" fill="#4caf7d" />
<rect x="409" y="411" width="1" height="25" fill="#4caf7d" />
<rect x="416" y="411" width="1" height="19" fill="#4caf7d" />
<rect x="423" y="411" width="1" height="17" fill="#4caf7d" />
<rect x="430" y="411" width="1" height="21" fill="#4caf7d" />
<rect x="437" y="411" width="1" height="24" fill="#4caf7d" />
<rect x="444" y="411" width="1" height="18" fill="#4caf7d" />
<rect x="451" y="411" width="1" height="13" fill="#4caf7d" />
<rect x="458" y="411" width="1" height="2" fill="#4caf7d" />
<rect x="465" y="404" width="1" height="8" fill="#e8455e" />
<rect x="472" y="397" width="1" height="15" fill="#e8455e" />
<rect x="479" y="399" width="1" height="13" fill="#e8455e" />
<rect x="486" y="398" width="1" height="14" fill="#e8455e" />
<rect x="493" y="397" width="1" height="15" fill="#e8455e" />
<rect x="500" y="391" width="1" height="21" fill="#e8455e" />
<rect x="507" y="388" width="1" height="24" fill="#e8455e" />
<rect x="514" y="388" width="1" height="24" fill="#e8455e" />
<rect x="521" y="390" width="1" height="22" fill="#e8455e" />
<rect x="528" y="394" width="1" height="18" fill="#e8455e" />
<rect x="535" y="399" width="1" height="13" fill="#e8455e" />
<rect x="542" y="399" width="1" height="13" fill="#e8455e" />
<rect x="549" y="398" width="1" height="14" fill="#e8455e" />
<rect x="556" y="400" width="1" height="12" fill="#e8455e" />
<rect x="563" y="411" width="1" height="2" fill="#4caf7d" />
<rect x="570" y="411" width="1" height="7" fill="#4caf7d" />
<rect x="577" y="411" width="1" height="5" fill="#4caf7d" />
<rect x="584" y="411" width="1" height="4" fill="#4caf7d" />
<rect x="591" y="411" width="1" height="4" fill="#4caf7d" />
<rect x="598" y="410" width="1" height="2" fill="#e8455e" />
<rect x="605" y="407" width="1" height="5" fill="#e8455e" />
<polyline points="94.0,395.5 101.0,394.6 108.0,393.7 115.0,392.6 122.0,390.7 129.0,389.8 136.0,390.7 143.0,389.6 150.0,388.6 157.0,389.6 164.0,389.6 171.5,395.7 178.0,400.5 185.0,405.5 192.0,411.4 198.8,416.6 208.4,421.0 212.5,424.4 220.7,429.2 227.5,432.6 240.0,438.4 253.7,445.8 260.5,447.2 267.4,449.9 274.2,453.0 281.0,454.8 287.9,454.4 294.7,454.8 300.2,455.4 305.7,454.0 311.1,452.4 316.6,450.3 322.0,446.2 328.9,442.8 338.2,440.0 346.4,433.5 353.0,438.0 361.2,438.4 367.8,442.2 370.0,445.2 378.2,451.5 386.4,458.7 394.6,467.0 397.0,469.4 402.8,472.3 412.7,472.3 413.5,471.5 419.3,471.5 420.9,472.3 430.0,475.6 437.6,479.4 450.8,479.4 459.0,473.0 465.5,469.4 472.1,464.8 478.7,463.7 485.2,462.0 493.4,459.6 501.7,452.7 510.0,448.4 513.1,446.0 519.7,444.4 531.2,444.4 538.6,445.5 547.6,442.2 555.8,441.4 565.7,448.8 570.6,451.3 575.5,450.5 588.7,450.8 592.0,451.3 598.5,449.6 604.8,447.2" fill="none" stroke="#2b86f0" stroke-width="1" stroke-linejoin="round" shape-rendering="crispEdges"/>
<polyline points="94.0,390.3 99.0,391.2 130.0,391.0 155.0,390.0 165.0,389.3 172.0,390.7 185.8,396.4 198.8,402.5 213.9,410.3 227.5,417.6 240.0,423.7 253.7,431.2 267.4,436.0 281.0,440.0 294.7,444.2 308.4,447.6 315.2,450.0 322.0,449.4 328.9,448.3 340.0,445.2 346.4,443.8 361.2,441.3 367.8,441.3 378.2,444.4 386.4,448.5 394.6,452.3 402.8,456.7 411.0,460.4 419.3,463.3 430.0,466.1 439.3,471.0 450.8,473.5 460.6,473.0 472.1,470.2 483.6,468.1 495.1,465.8 510.0,459.2 513.1,457.8 524.6,454.6 541.0,450.5 554.2,447.5 565.7,447.5 580.5,448.8 592.0,449.6 604.8,449.3" fill="none" stroke="#3ebf78" stroke-width="1" stroke-linejoin="round" shape-rendering="crispEdges"/>
<polyline points="94.0,507.3 101.0,513.5 108.0,512.5 115.0,503.5 122.0,503.5 129.0,519.4 136.0,504.6 143.0,517.3 150.0,509.4 157.0,512.5 164.0,520.0 171.0,536.0 178.0,541.2 185.0,544.4 192.0,554.2 199.0,554.2 206.0,553.2 213.0,561.0 220.0,561.0 227.0,561.3 234.0,567.2 241.0,570.6 248.0,575.8 255.0,579.1 262.0,566.5 269.0,574.7 276.0,578.2 283.0,579.0 290.0,562.7 297.0,568.4 304.0,562.2 311.0,559.1 318.0,547.2 325.0,536.3 332.0,549.2 339.0,535.8 346.0,522.6 353.0,560.2 360.0,544.5 367.0,555.4 374.0,564.0 381.0,566.0 388.0,573.2 395.0,576.3 402.0,575.0 409.0,560.5 416.0,560.5 423.0,565.7 430.0,573.9 437.0,579.0 444.0,562.7 451.0,562.2 458.0,546.5 465.0,548.2 472.0,543.5 479.0,554.4 486.0,552.3 493.0,552.0 500.0,535.3 507.0,538.3 514.0,541.7 521.0,546.5 528.0,551.3 535.0,556.1 542.0,546.5 549.0,544.5 556.0,547.6 563.0,569.1 570.0,567.3 577.0,550.6 584.0,553.7 591.0,556.6 598.0,548.4 605.0,547.2" fill="none" stroke="#27aae1" stroke-width="1" stroke-linejoin="round" shape-rendering="crispEdges"/>
<text x="92" y="14.5" font-size="12" fill="#222" text-anchor="start" font-weight="normal" font-family="'Liberation Sans', 'Noto Sans CJK SC', sans-serif" >欧元美元</text>
<text x="137.5" y="15" font-size="12" fill="#ff7a0a" text-anchor="start" font-weight="normal" font-family="'Liberation Sans', 'Noto Sans CJK SC', sans-serif" >【</text>
<text x="150.6" y="15" font-size="12" fill="#ff7a0a" text-anchor="start" font-weight="normal" font-family="'Liberation Sans', 'Noto Sans CJK SC', sans-serif" >日线</text>
<text x="177.7" y="15" font-size="12" fill="#ff7a0a" text-anchor="start" font-weight="normal" font-family="'Liberation Sans', 'Noto Sans CJK SC', sans-serif" >】</text>
<rect x="190" y="7" width="5" height="1" fill="#ff8000" />
<rect x="190" y="15" width="5" height="1" fill="#ff8000" />
<rect x="188" y="9" width="1" height="5" fill="#ff8000" />
<rect x="196" y="9" width="1" height="5" fill="#ff8000" />
<rect x="189" y="8" width="1" height="1" fill="#ff8000" />
<rect x="195" y="8" width="1" height="1" fill="#ff8000" />
<rect x="189" y="14" width="1" height="1" fill="#ff8000" />
<rect x="195" y="14" width="1" height="1" fill="#ff8000" />
<rect x="189" y="11" width="7" height="1" fill="#ff8000" />
<rect x="192" y="8" width="1" height="7" fill="#ffb060" />
<rect x="206" y="1" width="10" height="1" fill="#000a84" />
<rect x="205" y="2" width="1" height="11" fill="#000a84" />
<rect x="216" y="2" width="1" height="11" fill="#000a84" />
<rect x="206" y="13" width="10" height="1" fill="#000a84" />
<rect x="217" y="3" width="1" height="11" fill="#c4c2b4" />
<rect x="207" y="14" width="11" height="1" fill="#c4c2b4" />
<polyline points="206,8.5 209.5,4.5 212.5,7.5 214.5,5.5 216,5.5" fill="none" stroke="#ff1010" stroke-width="1.1"/>
<polyline points="206,11.5 209.5,7.5 212.5,10.5 214.5,8.5 216,8.5" fill="none" stroke="#1020ff" stroke-width="1.1"/>
<text x="220.5" y="13.7" font-size="12.3" fill="#111" text-anchor="start" font-weight="normal" font-family="'Liberation Sans', 'Noto Sans CJK SC', sans-serif" >MA(0,0,50,0,100,0)</text>
<text x="331" y="13.7" font-size="12.7" fill="#2f8cff" text-anchor="start" font-weight="normal" font-family="'Liberation Sans', 'Noto Sans CJK SC', sans-serif" >MA0:1.0423</text>
<text x="407.3" y="13.7" font-size="12.7" fill="#4cc07c" text-anchor="start" font-weight="normal" font-family="'Liberation Sans', 'Noto Sans CJK SC', sans-serif" >MA0:1.0423</text>
<text x="483.3" y="13.7" font-size="12.7" fill="#40b4ec" text-anchor="start" font-weight="normal" font-family="'Liberation Sans', 'Noto Sans CJK SC', sans-serif" >MA50:1</text>
<text x="92.5" y="374" font-size="12.5" fill="#111" text-anchor="start" font-weight="normal" font-family="'Liberation Sans', 'Noto Sans CJK SC', sans-serif" >MACD(26,12,9)</text>
<text x="182.5" y="374" font-size="12.2" fill="#2f8cff" text-anchor="start" font-weight="normal" font-family="'Liberation Sans', 'Noto Sans CJK SC', sans-serif" >DIFF:-0.0058</text>
<text x="261" y="374" font-size="12.5" fill="#4cc07c" text-anchor="start" font-weight="normal" font-family="'Liberation Sans', 'Noto Sans CJK SC', sans-serif" >DEA:-0.0060</text>
<text x="338.5" y="374" font-size="12.4" fill="#40b4ec" text-anchor="start" font-weight="normal" font-family="'Liberation Sans', 'Noto Sans CJK SC', sans-serif" >MACD:0.0005</text>
<text x="92.3" y="495" font-size="12.2" fill="#111" text-anchor="start" font-weight="normal" font-family="'Liberation Sans', 'Noto Sans CJK SC', sans-serif" >RSI(14,14,14)</text>
<text x="170.5" y="495" font-size="12.4" fill="#2f8cff" text-anchor="start" font-weight="normal" font-family="'Liberation Sans', 'Noto Sans CJK SC', sans-serif" >RSI1:41.4905</text>
<text x="252.5" y="495" font-size="12.4" fill="#4cc07c" text-anchor="start" font-weight="normal" font-family="'Liberation Sans', 'Noto Sans CJK SC', sans-serif" >RSI2:41.4905</text>
<text x="334.5" y="495" font-size="12.4" fill="#40b4ec" text-anchor="start" font-weight="normal" font-family="'Liberation Sans', 'Noto Sans CJK SC', sans-serif" >RSI3:41.4905</text>
<rect x="27" y="484" width="4" height="1" fill="#000" />
<rect x="27" y="491" width="4" height="1" fill="#000" />
<rect x="25" y="486" width="1" height="4" fill="#000" />
<rect x="32" y="486" width="1" height="4" fill="#000" />
<rect x="26" y="485" width="1" height="1" fill="#000" />
<rect x="31" y="485" width="1" height="1" fill="#000" />
<rect x="26" y="490" width="1" height="1" fill="#000" />
<rect x="31" y="490" width="1" height="1" fill="#000" />
<rect x="27" y="487" width="4" height="2" fill="#ff0000" />
<rect x="28" y="486" width="2" height="4" fill="#ff0000" />
<rect x="28" y="481" width="1" height="2" fill="#ff0000" />
<rect x="28" y="493" width="1" height="2" fill="#ff0000" />
<rect x="22" y="487" width="2" height="1" fill="#ff0000" />
<rect x="34" y="487" width="2" height="1" fill="#ff0000" />
<rect x="23" y="482" width="1" height="1" fill="#ff0000" />
<rect x="24" y="483" width="1" height="1" fill="#ff0000" />
<rect x="34" y="482" width="1" height="1" fill="#ff0000" />
<rect x="33" y="483" width="1" height="1" fill="#ff0000" />
<rect x="23" y="493" width="1" height="1" fill="#ff0000" />
<rect x="24" y="492" width="1" height="1" fill="#ff0000" />
<rect x="34" y="493" width="1" height="1" fill="#ff0000" />
<rect x="33" y="492" width="1" height="1" fill="#ff0000" />
<rect x="598.5" y="1.5" width="13" height="13" fill="#fff" stroke="#1f74c9"/>
<rect x="614.5" y="1.5" width="13" height="13" fill="#fff" stroke="#1f74c9"/>
<rect x="630.5" y="1.5" width="13" height="13" fill="#fff" stroke="#1f74c9"/>
<rect x="646.5" y="1.5" width="13" height="13" fill="#fff" stroke="#1f74c9"/>
<rect x="600" y="7" width="3" height="2" fill="#1f74c9" />
<rect x="604" y="7" width="2" height="2" fill="#1f74c9" />
<rect x="607" y="7" width="3" height="2" fill="#1f74c9" />
<rect x="604" y="3" width="2" height="3" fill="#1f74c9" />
<rect x="604" y="10" width="2" height="3" fill="#1f74c9" />
<rect x="617" y="3" width="1" height="10" fill="#1f74c9" />
<rect x="616" y="4" width="3" height="1" fill="#1f74c9" />
<rect x="616" y="11" width="10" height="1" fill="#1f74c9" />
<rect x="624" y="10" width="1" height="3" fill="#1f74c9" />
<rect x="620" y="4" width="1" height="6" fill="#1f74c9" />
<rect x="623" y="5" width="1" height="5" fill="#1f74c9" />
<rect x="622" y="6" width="1" height="3" fill="#1f74c9" />
<rect x="621" y="7" width="1" height="1" fill="#1f74c9" />
<rect x="633" y="3" width="1" height="10" fill="#1f74c9" />
<rect x="632" y="4" width="3" height="1" fill="#1f74c9" />
<rect x="632" y="11" width="10" height="1" fill="#1f74c9" />
<rect x="640" y="10" width="1" height="3" fill="#1f74c9" />
<rect x="636" y="4" width="1" height="7" fill="#1f74c9" />
<rect x="637" y="4" width="1" height="7" fill="#1f74c9" />
<rect x="638" y="5" width="1" height="5" fill="#1f74c9" />
<rect x="639" y="6" width="1" height="3" fill="#1f74c9" />
<rect x="640" y="7" width="1" height="1" fill="#1f74c9" />
<rect x="648.5" y="3.5" width="3" height="9" fill="none" stroke="#1f74c9"/>
<rect x="651" y="7" width="4" height="2" fill="#1f74c9" />
<path d="M654,5.2 L657.4,8 L654,10.8 Z" fill="#1f74c9"/>
<rect x="171" y="581" width="1" height="5" fill="#c5ccd6" />
<rect x="332" y="581" width="1" height="5" fill="#c5ccd6" />
<text x="173.5" y="593" font-size="12" fill="#222" text-anchor="start" font-weight="bold" font-family="'Liberation Sans', 'Noto Sans CJK SC', sans-serif" >2024/10</text>
<text x="334.5" y="593" font-size="12" fill="#222" text-anchor="start" font-weight="bold" font-family="'Liberation Sans', 'Noto Sans CJK SC', sans-serif" >2024/11</text>
<rect x="469.5" y="580.5" width="110" height="17" fill="#fff" stroke="#e3e8ee"/>
<text x="471.5" y="594" font-size="12" fill="#ff7a0a" text-anchor="start" font-weight="normal" font-family="'Liberation Sans', 'Noto Sans CJK SC', sans-serif" letter-spacing="0.4">2024/11/29 星期五</text>
<rect x="19.5" y="580.5" width="70" height="19" fill="#fff" stroke="#cfd5dd"/>
<text x="34.5" y="595.5" font-size="12" fill="#ff6a00" text-anchor="start" font-weight="bold" font-family="'Liberation Sans', 'Noto Sans CJK SC', sans-serif" >日线</text>
<path d="M65,595 L69,587 L73,595 Z" fill="#ff7a0a"/>
<text x="601.5" y="591.5" font-size="31" font-family="'Liberation Sans', 'Noto Sans CJK SC', sans-serif" fill="#b59a86" letter-spacing="1.6" opacity="0.8">FX678</text>
<text x="600.5" y="590.5" font-size="31" font-family="'Liberation Sans', 'Noto Sans CJK SC', sans-serif" fill="#dbe7f7" letter-spacing="1.6">FX678</text>
<rect x="461" y="597" width="196" height="1" fill="#e8ecf0" />
<rect x="729" y="65" width="1" height="276" fill="#eef1f5" />
<rect x="574" y="603" width="4" height="1" fill="#3a3f50" />
<rect x="581" y="603" width="4" height="1" fill="#3a3f50" />
<rect x="591" y="603" width="4" height="1" fill="#3a3f50" />
<rect x="598" y="603" width="4" height="1" fill="#3a3f50" />
</svg>
<div class="bar">
<div class="bt cjk" style="left:0;width:40px;">指标</div>
<div class="bt cjk" style="left:40px;width:40px;">模板</div>
<div class="bt vip" style="left:80px;width:58px;"><span style="font-family:'Liberation Serif',serif">VIP</span><span style="font-family:'Liberation Sans','Noto Sans CJK SC',sans-serif">指标</span></div>
<div class="bt mono" style="left:138px;width:75px;">BARUPDN_UD</div>
<div class="bt mono" style="left:213px;width:59px;">BIAS_UD</div>
<div class="bt mono" style="left:272px;width:58px;">BOLL_UD</div>
<div class="bt mono" style="left:330px;width:52px;">CCI_UD</div>
<div class="bt mono" style="left:382px;width:52px;">DMI_UD</div>
<div class="bt mono" style="left:434px;width:70px;">INSIDE_UD</div>
<div class="bt mono" style="left:504px;width:27px;border-right:none">&gt;&gt;</div>
<div style="position:absolute;left:531px;top:3px;width:180px;height:12px;border-left:1px solid #c8d0da;border-bottom:1px solid #c8d0da;box-sizing:border-box"></div>
<div style="position:absolute;left:436px;top:-1px;width:188px;height:1px;background:#e6eaef"></div>
</div>
</body></html>
